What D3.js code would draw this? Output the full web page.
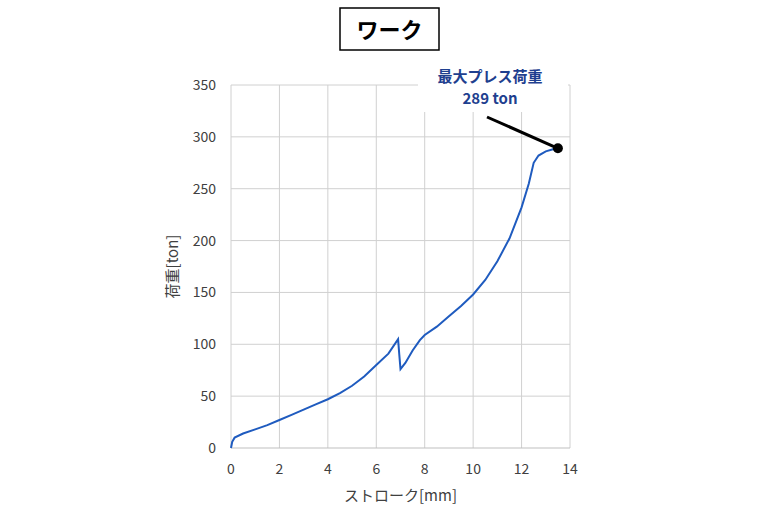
<!DOCTYPE html>
<html><head><meta charset="utf-8">
<script src="https://cdn.jsdelivr.net/npm/d3@7"></script>
<style>body{margin:0;background:#fff;font-family:"Noto Sans CJK JP","Noto Sans",sans-serif}</style>
</head><body><svg id="chart" width="777" height="514"></svg>
<script>
const stroke = [0,0.05,0.15,0.5,1,1.5,2,2.5,3,3.5,4,4.5,5,5.5,6,6.5,6.9,6.95,7.0,7.2,7.5,7.8,8,8.5,9,9.5,10,10.5,11,11.5,12,12.3,12.5,12.7,13,13.3,13.5]
const load   = [0,6,10,14,18,22,27,32,37,42,47,53,60,69,80,91,105,90,76,82,94,104,109,117,127,137,148,162,180,202,232,255,275,282,286,288,289]
const xTicks = [0,2,4,6,8,10,12,14]
const yTicks = [0,50,100,150,200,250,300,350]
const peak = {x: 13.5, y: 289, label1: '最大プレス荷重', label2: '289 ton'}

const svg = d3.select('#chart')
const x = d3.scaleLinear().domain([0,14]).range([231,570])
const y = d3.scaleLinear().domain([0,350]).range([448,85])

// grid
svg.append('g').selectAll('line').data(xTicks.slice(1)).enter().append('line')
    .attr('x1', d => x(d)).attr('x2', d => x(d)).attr('y1', y(0)).attr('y2', y(350))
    .attr('stroke', '#d0d0d0')
svg.append('g').selectAll('line').data(yTicks.slice(1)).enter().append('line')
    .attr('x1', x(0)).attr('x2', x(14)).attr('y1', d => y(d)).attr('y2', d => y(d))
    .attr('stroke', '#d0d0d0')
svg.append('line').attr('x1', x(0)).attr('x2', x(0)).attr('y1', y(0)).attr('y2', y(350)).attr('stroke', '#d0d0d0')
svg.append('line').attr('x1', x(0)).attr('x2', x(14)).attr('y1', y(0)).attr('y2', y(0)).attr('stroke', '#bfbfbf')

// tick labels
svg.append('g').selectAll('text').data(xTicks).enter().append('text')
    .attr('x', d => x(d)).attr('y', 474).attr('text-anchor', 'middle')
    .attr('font-size', 14).attr('fill', '#404040').text(d => d)
svg.append('g').selectAll('text').data(yTicks).enter().append('text')
    .attr('x', 216).attr('y', d => y(d) + 5).attr('text-anchor', 'end')
    .attr('font-size', 14).attr('fill', '#404040').text(d => d)

// axis titles
svg.append('text').attr('x', x(7)).attr('y', 501).attr('text-anchor', 'middle')
    .attr('font-size', 15).attr('fill', '#404040').text('ストローク[mm]')
svg.append('text').attr('transform', `translate(178,${y(175)}) rotate(-90)`).attr('text-anchor', 'middle')
    .attr('font-size', 15).attr('fill', '#404040').text('荷重[ton]')

// label box (covers grid)
svg.append('rect').attr('x', 418).attr('y', 60).attr('width', 150).attr('height', 52).attr('fill', '#fff')
svg.append('text').attr('x', 490).attr('y', 82).attr('text-anchor', 'middle')
    .attr('font-size', 15).attr('font-weight', 'bold').attr('fill', '#1f3f8f').text(peak.label1)
svg.append('text').attr('x', 490).attr('y', 104).attr('text-anchor', 'middle')
    .attr('font-size', 15).attr('font-weight', 'bold').attr('fill', '#1f3f8f').text(peak.label2)

// curve
const pts = stroke.map((s, i) => [s, load[i]])
svg.append('path').datum(pts)
    .attr('d', d3.line().x(d => x(d[0])).y(d => y(d[1])))
    .attr('fill', 'none').attr('stroke', '#1f5bbf').attr('stroke-width', 2)

// leader + dot
svg.append('line').attr('x1', 487).attr('y1', 117).attr('x2', x(peak.x)).attr('y2', y(peak.y))
    .attr('stroke', '#000').attr('stroke-width', 3)
svg.append('circle').attr('cx', x(peak.x)).attr('cy', y(peak.y)).attr('r', 5).attr('fill', '#000')

// title
svg.append('rect').attr('x', 340).attr('y', 8).attr('width', 99).attr('height', 42)
    .attr('fill', '#fff').attr('stroke', '#000').attr('stroke-width', 1.5)
svg.append('text').attr('x', 389.5).attr('y', 38).attr('text-anchor', 'middle')
    .attr('font-size', 22).attr('font-weight', 'bold').attr('fill', '#000').text('ワーク')
</script></body></html>
